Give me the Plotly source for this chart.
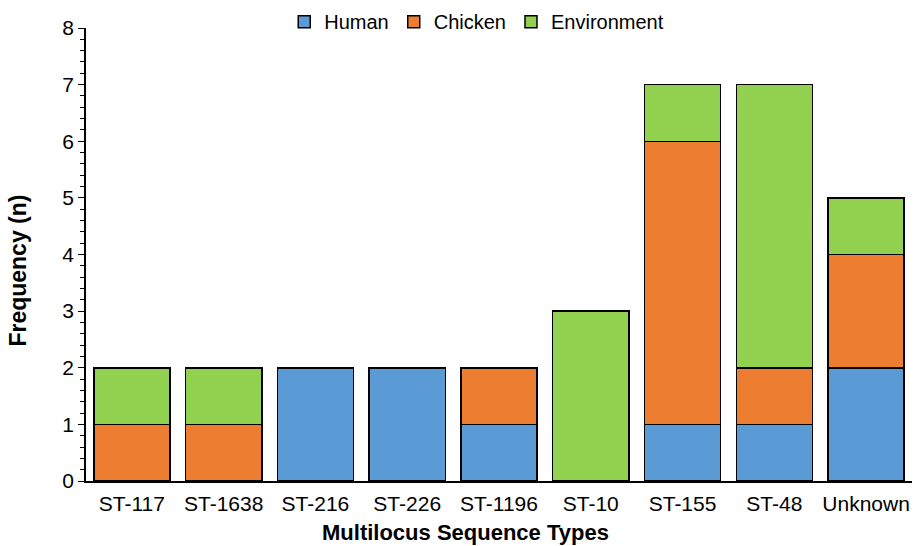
import plotly.graph_objects as go

categories = ["ST-117", "ST-1638", "ST-216", "ST-226", "ST-1196", "ST-10", "ST-155", "ST-48", "Unknown"]
human = [0, 0, 2, 2, 1, 0, 1, 1, 2]
chicken = [1, 1, 0, 0, 1, 0, 5, 1, 2]
environment = [1, 1, 0, 0, 0, 3, 1, 5, 1]

series = [
    ("Human", human, "#5B9BD5"),
    ("Chicken", chicken, "#ED7D31"),
    ("Environment", environment, "#92D050"),
]

fig = go.Figure()
for name, vals, color in series:
    fig.add_trace(go.Bar(
        x=categories, y=vals, name=name,
        marker=dict(color=color, line=dict(color="black", width=1.5)),
    ))

font = "Liberation Sans, Arial, sans-serif"
fig.update_layout(
    barmode="stack",
    bargap=0.17,
    width=913, height=546,
    margin=dict(l=86, r=1, t=28, b=65, autoexpand=False),
    plot_bgcolor="white", paper_bgcolor="white",
    font=dict(family=font, size=21, color="black"),
    legend=dict(orientation="h", x=0.24, xanchor="left", y=0.996, yanchor="top",
                yref="container",
                font=dict(size=20), traceorder="normal", itemwidth=30,
                bgcolor="rgba(0,0,0,0)"),
    xaxis=dict(
        showline=True, linecolor="black", linewidth=1.5, ticks="",
        tickfont=dict(size=21), ticklabelstandoff=3,
    ),
    yaxis=dict(
        range=[0, 8], dtick=1, showline=True, linecolor="black", linewidth=1.5,
        showgrid=False, zeroline=False, ticks="outside", ticklen=6, tickcolor="black",
        tickfont=dict(size=21),
        minor=dict(dtick=0.2, ticks="outside", ticklen=4, tickcolor="black", showgrid=False),
    ),
    annotations=[
        dict(text="<b>Multilocus Sequence Types</b>", xref="paper", yref="paper",
             x=0.46, y=-0.113, xanchor="center", yanchor="middle", showarrow=False,
             font=dict(size=22)),
        dict(text="<b>Frequency (n)</b>", xref="paper", yref="paper",
             x=-0.082, y=0.465, xanchor="center", yanchor="middle", showarrow=False,
             textangle=-90, font=dict(size=23)),
    ],
)

fig.write_html("out.html")
